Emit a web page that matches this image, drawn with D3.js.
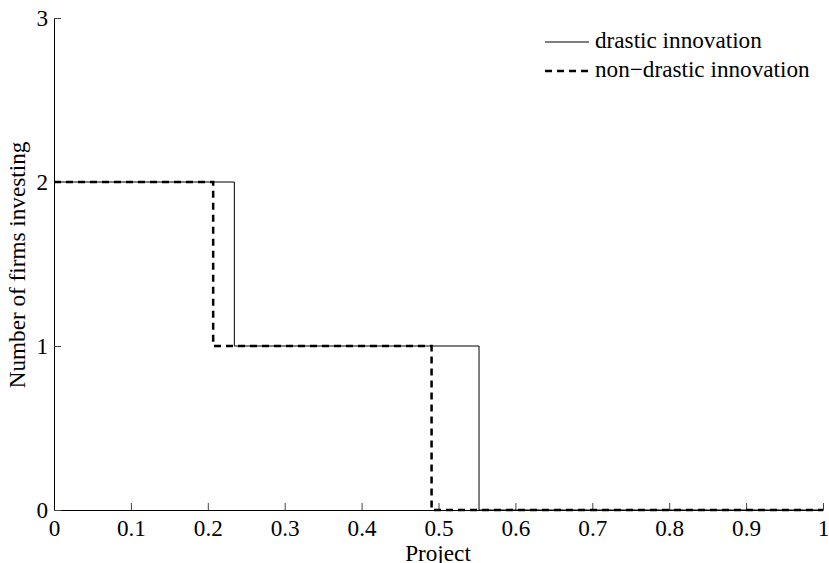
<!DOCTYPE html>
<html><head><meta charset="utf-8">
<script src="https://cdn.jsdelivr.net/npm/d3@7"></script>
<style>body{margin:0;background:#fff}svg{display:block}text{font-family:"Liberation Serif","Times New Roman",Times,serif;fill:#000}</style>
</head><body><svg id="c" width="829" height="563"></svg>
<script>
const xTicks = [0,0.1,0.2,0.3,0.4,0.5,0.6,0.7,0.8,0.9,1];
const yTicks = [0,1,2,3];
const drasticX = [0, 0.2345, 0.5527, 1];
const drasticY = [2, 1, 0, 0];
const nonDrasticX = [0, 0.207, 0.491, 1];
const nonDrasticY = [2, 1, 0, 0];
const seriesNames = ["drastic innovation", "non\u2212drastic innovation"];

const FS = 23.2;
const svg = d3.select("#c");
const x = d3.scaleLinear().domain([0,1]).range([54,823]);
const y = d3.scaleLinear().domain([0,3]).range([510,18]);

// axes
const gx = svg.append("g").attr("transform","translate(0,510)")
  .call(d3.axisBottom(x).tickValues(xTicks).tickSizeInner(-7).tickSizeOuter(0).tickPadding(11)
    .tickFormat(d=>d===0?"0":d===1?"1":d3.format(".1f")(d)));
const gy = svg.append("g").attr("transform","translate(54,0)")
  .call(d3.axisLeft(y).tickValues(yTicks).tickSizeInner(-7).tickSizeOuter(0).tickPadding(6).tickFormat(d3.format("d")));
[gx,gy].forEach(g=>{
  g.select(".domain").attr("stroke","#000").attr("stroke-width",1);
  g.selectAll(".tick line").attr("stroke","#444");
  g.selectAll("text").attr("font-size",FS).attr("font-family","Liberation Serif, serif");
});
gx.selectAll("text").attr("dy","0.66em");
gy.selectAll("text").attr("dy","0.32em");

const line = d3.line().x(d=>x(d[0])).y(d=>y(d[1])).curve(d3.curveStepAfter);
svg.append("path").datum(d3.zip(drasticX,drasticY)).attr("d",line)
  .attr("fill","none").attr("stroke","#000").attr("stroke-width",1);
svg.append("path").datum(d3.zip(nonDrasticX,nonDrasticY)).attr("d",line)
  .attr("fill","none").attr("stroke","#000").attr("stroke-width",2.5).attr("stroke-dasharray","7,5");

// labels
svg.append("text").attr("x",438).attr("y",561).attr("text-anchor","middle").attr("font-size",FS).text("Project");
svg.append("text").attr("transform","translate(25,265) rotate(-90)").attr("text-anchor","middle").attr("font-size",FS).text("Number of firms investing");

// legend
const lg = svg.append("g");
[0,1].forEach(i=>{
  const yy = 42 + i*29;
  lg.append("line").attr("x1",545).attr("x2",589).attr("y1",yy).attr("y2",yy)
    .attr("stroke","#000").attr("stroke-width",i?2.5:1).attr("stroke-dasharray",i?"7,5":null);
  lg.append("text").attr("x",595).attr("y",yy+6).attr("font-size",FS).text(seriesNames[i]);
});
</script></body></html>
